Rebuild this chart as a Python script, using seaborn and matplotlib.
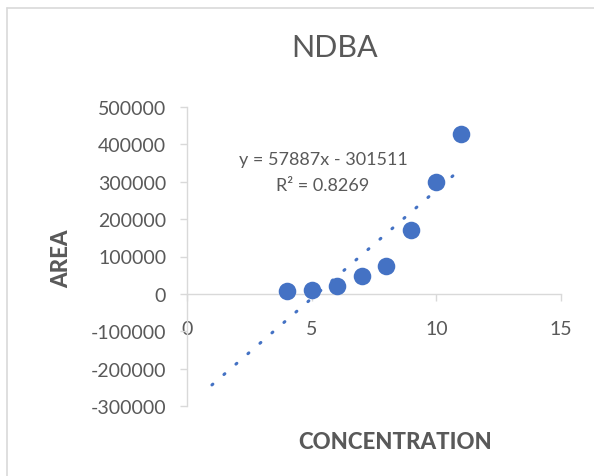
import numpy as np
import pandas as pd
import matplotlib
matplotlib.use("Agg")
import matplotlib.pyplot as plt
from matplotlib.lines import Line2D
import seaborn as sns

# Measured data
concentration = [4, 5, 6, 7, 8, 9, 10, 11]
area = [8000, 10000, 20000, 48000, 75000, 170000, 300000, 428000]

# Linear trendline (as reported on the chart), extended back to x = 1
slope = 57887
intercept = -301511
r_squared = 0.8269
trend_x = [1, 11]

x_ticks = [0, 5, 10, 15]
y_ticks = [-300000, -200000, -100000, 0, 100000, 200000, 300000, 400000, 500000]

sns.set_style("white")
plt.rcParams["font.family"] = ["Lato", "DejaVu Sans"]

text_grey = "#595959"
axis_grey = "#D9D9D9"
blue = "#4472C4"

W, H = 594, 477
fig = plt.figure(figsize=(W / 100, H / 100), dpi=100)
ax = fig.add_axes([187 / W, (H - 407) / H, 374 / W, 299 / H])

df = pd.DataFrame({"CONCENTRATION": concentration, "AREA": area})
sns.scatterplot(data=df, x="CONCENTRATION", y="AREA", ax=ax, s=160,
                color=blue, edgecolor=blue, linewidth=0, zorder=3)

tx = np.array(trend_x, dtype=float)
ax.plot(tx, slope * tx + intercept, color=blue, lw=2.2,
        linestyle=(0, (0.4, 4.8)), dash_capstyle="round", zorder=2)

ax.set_xlim(x_ticks[0], x_ticks[-1])
ax.set_ylim(y_ticks[0], y_ticks[-1])
ax.set_xticks(x_ticks)
ax.set_yticks(y_ticks)
ax.set_xticklabels([str(v) for v in x_ticks])
ax.set_yticklabels([str(v) for v in y_ticks])

for side in ("top", "right"):
    ax.spines[side].set_visible(False)
ax.spines["bottom"].set_position(("data", 0))
for side in ("left", "bottom"):
    ax.spines[side].set_color(axis_grey)
    ax.spines[side].set_linewidth(1.0)

ax.tick_params(axis="y", direction="out", length=5, width=1, color=axis_grey,
               labelcolor=text_grey, labelsize=14, pad=10, left=True)
ax.tick_params(axis="x", direction="out", length=5, width=1, color=axis_grey,
               labelcolor=text_grey, labelsize=14, pad=14, bottom=True)

ax.set_xlabel("CONCENTRATION", fontsize=16, fontweight="black", color=text_grey)
ax.set_ylabel("AREA", fontsize=16, fontweight="black", color=text_grey)
ax.xaxis.set_label_coords((395 - 187) / 374, -(443 - 407) / 299)
ax.yaxis.set_label_coords((62 - 187) / 374, (407 - 259) / 299)
ax.xaxis.label.set_va("center")
ax.yaxis.label.set_va("center")

sign = "-" if intercept < 0 else "+"
ax.text((323 - 187) / 374, (407 - 160) / 299,
        f"y = {slope}x {sign} {abs(intercept)}",
        transform=ax.transAxes, ha="center", va="center",
        fontsize=13, color=text_grey)
ax.text((323 - 187) / 374, (407 - 186) / 299,
        f"R\u00b2 = {r_squared}",
        transform=ax.transAxes, ha="center", va="center",
        fontsize=13, color=text_grey)

fig.text(335 / W, 1 - 48 / H, "NDBA", ha="center", va="center",
         fontsize=22, color=text_grey)

# chart-area frame (left and top edges)
fig.add_artist(Line2D([7 / W, 7 / W], [0, 1 - 9 / H], transform=fig.transFigure,
                      color=axis_grey, lw=1.2))
fig.add_artist(Line2D([7 / W, 1], [1 - 9 / H, 1 - 9 / H], transform=fig.transFigure,
                      color=axis_grey, lw=1.2))

fig.savefig("out.png", dpi=100)
